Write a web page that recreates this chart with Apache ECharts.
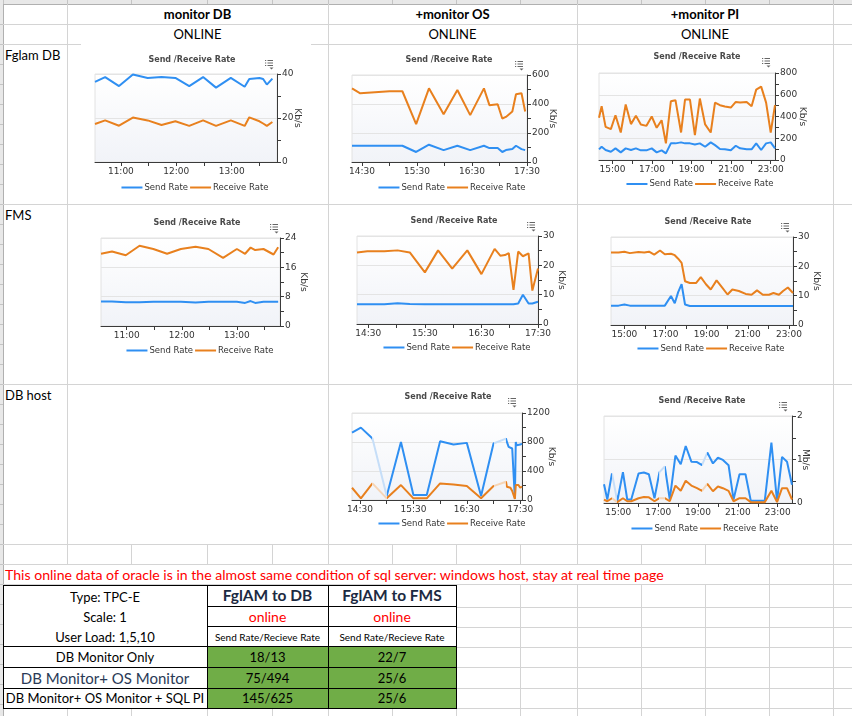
<!DOCTYPE html>
<html>
<head>
<meta charset="utf-8">
<title>Oracle online - send / receive rate</title>
<script src="https://cdn.jsdelivr.net/npm/echarts@6.0.0/dist/echarts.min.js"></script>
<style>
  html, body { margin: 0; padding: 0; }
  body { width: 852px; height: 716px; position: relative; overflow: hidden; background: #fff; font-family: Lato, "Open Sans", sans-serif; }
  .box { position: absolute; }
  .txt { position: absolute; white-space: nowrap; line-height: 1; color: #000; font-size: 13px; }
  .chart { position: absolute; }
</style>
</head>
<body>
<script>
// ---- chart data ----

// Fglam DB row
const fglamMonDbTimes = ['10:32','10:43','10:58','11:13','11:29','11:44','11:59','12:14','12:29','12:43','12:59','13:14','13:19','13:30','13:34','13:38','13:44'];
const fglamMonDbSend = [36.4,38.6,34.5,39.8,38.2,38.6,38.2,34.5,38.6,33.8,38.2,34.2,37.7,38.2,37.7,35.2,37.9];
const fglamMonDbRecv = [17.3,18.9,16.5,20.2,18.9,16.8,18.5,16.4,18.9,16.4,18.9,16.4,20.3,18.5,17.5,16.4,18.2];

const fglamMonOsTimes = ['14:19','14:28','15:00','15:14','15:29','15:43','15:59','16:14','16:28','16:43','16:49','16:58','17:03','17:07','17:14','17:18','17:24','17:28'];
const fglamMonOsSend = [112,112,112,112,69,119,82,112,82,112,96,96,69,82,89,112,89,82];
const fglamMonOsRecv = [508,474,488,488,261,508,330,497,323,508,392,398,300,311,348,467,474,348];

const fglamMonPiTimes = ['14:19','14:27','14:39','14:55','15:09','15:25','15:40','15:56','16:11','16:26','16:43','16:59','17:14','17:29','17:42','17:57','18:11','18:28','18:40','18:55','19:10','19:25','19:41','19:58','20:11','20:26','20:41','20:59','21:14','21:27','21:47','22:02','22:16','22:31','22:46','23:00','23:13'];
const fglamMonPiSend = [98,122,92,76,107,70,107,92,107,89,89,107,70,89,61,153,153,162,153,153,143,153,122,162,137,101,98,89,131,107,98,98,153,92,153,162,107];
const fglamMonPiRecv = [388,495,305,284,412,253,510,330,406,327,314,400,296,366,153,540,550,253,556,556,229,565,327,253,528,504,492,482,534,528,534,495,647,675,528,253,504];

// FMS row
const fmsMonDbTimes = ['10:32','10:44','10:59','11:14','11:29','11:44','11:59','12:15','12:29','12:45','13:00','13:09','13:15','13:20','13:29','13:40','13:45'];
const fmsMonDbSend = [6.7,6.7,6.5,6.5,6.6,6.6,6.6,6.4,6.6,6.6,6.6,6.3,6.8,6.3,6.6,6.6,6.6];
const fmsMonDbRecv = [19.7,20.3,19.3,21.9,21.0,19.7,21.0,21.6,21.0,18.6,21.0,19.7,21.4,20.7,21.0,19.5,21.5];

const fmsMonOsTimes = ['14:18','14:29','14:47','15:01','15:14','15:30','15:44','15:59','16:15','16:30','16:44','16:50','16:55','16:59','17:04','17:09','17:14','17:20','17:24','17:30'];
const fmsMonOsSend = [6.7,6.7,6.7,7.1,6.8,6.7,6.7,6.7,6.7,6.7,6.7,6.7,6.7,6.7,6.7,7.0,10.0,7.0,7.0,7.6];
const fmsMonOsRecv = [24.4,24.8,24.8,25.1,24.4,17.6,25.1,18.9,25.1,17.0,25.6,23.3,23.5,24.2,11.6,24.7,23.1,24.1,11.4,18.9];

const fmsMonPiTimes = ['14:21','14:43','15:00','15:16','15:41','15:58','16:12','16:27','16:44','16:58','17:16','17:27','17:37','17:47','17:57','18:11','18:29','18:43','18:58','19:12','19:29','19:45','20:01','20:15','20:34','20:54','21:11','21:27','21:44','22:02','22:15','22:31','22:43','22:57','23:12'];
const fmsMonPiSend = [6.6,6.6,7.0,6.6,6.6,6.6,6.6,6.6,6.6,6.6,9.9,7.4,11.2,13.9,7.0,6.5,6.5,6.5,6.5,6.5,6.5,6.5,6.5,6.5,6.5,6.5,6.5,6.5,6.5,6.5,6.5,6.5,6.5,6.5,6.5];
const fmsMonPiRecv = [24.7,24.7,25.0,24.5,24.9,24.7,25.0,24.0,25.4,24.1,24.3,23.8,22.6,21.2,14.9,14.3,14.3,16.3,13.9,12.1,15.2,12.8,10.4,12.1,11.6,10.6,10.3,11.8,10.3,10.3,10.9,10.3,11.6,12.8,10.9];

// DB host row (faded parts = no data collected)
const hostMonOsTimes = ['14:21','14:31','14:44','15:00','15:16','15:30','15:45','16:00','16:15','16:30','16:46','17:00','17:14','17:15','17:17','17:19','17:21','17:22','17:23','17:24','17:25','17:26','17:28','17:30','17:32'];
const hostMonOsSend = [930,998,847,55,801,69,69,811,765,788,55,779,847,801,733,756,710,733,687,23,801,756,779,765,779];
const hostMonOsRecv = [169,23,229,23,206,23,23,229,215,192,23,192,252,183,160,169,124,137,115,14,206,183,206,169,183];
const hostMonOsGaps = [['14:44','15:00'], ['17:00','17:14']];

const hostMonPiTimes = ['14:17','14:27','14:41','14:57','15:14','15:27','15:39','16:01','16:17','16:32','16:49','17:04','17:20','17:35','17:52','18:08','18:23','18:40','18:57','19:12','19:28','19:45','20:00','20:15','20:32','20:47','21:05','21:23','21:39','22:21','22:41','22:58','23:13','23:28','23:43'];
const hostMonPiSend = [0.43,0.08,0.68,0.04,0.71,0.08,0.08,0.68,0.70,0.66,0.11,0.71,0.84,0.08,1.09,0.89,1.31,0.95,0.94,0.87,1.16,0.91,1.04,0.99,0.87,0.08,0.66,0.66,0.05,0.05,1.39,0.04,1.06,0.95,0.42];
const hostMonPiRecv = [0.08,0.04,0.11,0.02,0.11,0.04,0.04,0.11,0.14,0.13,0.04,0.11,0.11,0.04,0.40,0.28,0.51,0.40,0.34,0.28,0.44,0.27,0.38,0.34,0.28,0.04,0.11,0.11,0.02,0.02,0.28,0.02,0.34,0.34,0.08];
const hostMonPiGaps = [['14:41','14:57'], ['17:04','17:20'], ['19:12','19:28']];

// axis ticks
const dbTicks = ['11:00','11:30','12:00','12:30','13:00','13:30'];
const dbLabels = ['11:00','12:00','13:00'];
const osTicks = ['14:30','15:00','15:30','16:00','16:30','17:00','17:30'];
const osLabels = ['14:30','15:30','16:30','17:30'];
const piTicks = ['15:00','16:00','17:00','18:00','19:00','20:00','21:00','22:00','23:00'];
const piLabels = ['15:00','17:00','19:00','21:00','23:00'];

// summary table
const tableHeads = ['FglAM to DB', 'FglAM to FMS'];
const tableRows = ['DB Monitor Only', 'DB Monitor+ OS Monitor', 'DB Monitor+ OS Monitor + SQL PI'];
const toDbRates = ['18/13', '75/494', '145/625'];
const toFmsRates = ['22/7', '25/6', '25/6'];

// ---- helpers ----
const BLUE = '#2f8ff2';
const ORANGE = '#e8801e';
const BLUE_FADED = '#c6def8';
const ORANGE_FADED = '#f6d5b6';
const AXIS = '#3a3a3a';
const LABEL = '#333';
const GRID = '#d4d4d4';
const CHART_FONT = 'DejaVu Sans';

const toMin = (s) => { const p = s.split(':'); return +p[0] * 60 + +p[1]; };
const fmtMin = (v) => {
  const h = Math.floor(v / 60), m = Math.round(v - h * 60);
  return String(h).padStart(2, '0') + ':' + String(m).padStart(2, '0');
};

function rect(x, y, w, h, color) {
  const d = document.createElement('div');
  d.className = 'box';
  d.style.cssText = `left:${x}px;top:${y}px;width:${w}px;height:${h}px;background:${color}`;
  document.body.appendChild(d);
  return d;
}
const hLine = (y, x1, x2, c) => rect(x1, y, x2 - x1, 1, c || GRID);
const vLine = (x, y1, y2, c) => rect(x, y1, 1, y2 - y1, c || GRID);

function text(str, x, y, style, centered) {
  const d = document.createElement('div');
  d.className = 'txt';
  d.textContent = str;
  d.style.left = x + 'px';
  d.style.top = y + 'px';
  d.style.transform = centered ? 'translate(-50%,-50%)' : 'translateY(-50%)';
  Object.assign(d.style, style || {});
  document.body.appendChild(d);
  return d;
}

// ---- spreadsheet grid ----
const COLS = [3, 67, 131, 207, 272, 328, 392, 456, 520, 577, 641, 705, 769, 833];

rect(0, 0, 852, 4, '#e8e8e8');
COLS.forEach(x => vLine(x, 0, 4, '#c4c4c4'));
hLine(4, 0, 852, '#b0b0b0');
rect(0, 4, 3, 712, '#e8e8e8');
for (let y = 24; y < 716; y += 20) hLine(y, 0, 3, '#c4c4c4');
vLine(3, 4, 716, '#b0b0b0');

[24, 44, 204, 384, 544, 564, 584].forEach(y => hLine(y, 3, 852));
[607, 627, 647, 667, 688, 708].forEach(y => hLine(y, 456, 852));
[67, 328, 577, 833].forEach(x => vLine(x, 4, 564));
COLS.slice(1).forEach(x => vLine(x, 544, 564));
[769, 833].forEach(x => vLine(x, 564, 584));
[520, 577, 641, 705, 769, 833].forEach(x => vLine(x, 584, 716));
[67, 131, 207, 272, 328, 392, 456].forEach(x => vLine(x, 708, 716));

// chart 1 picture sits over the row line
rect(81, 40, 230, 160, '#fff');

// headings
const bold = { fontWeight: 'bold' };
text('monitor DB', 197.5, 14, bold, true);
text('+monitor OS', 452.5, 14, bold, true);
text('+monitor PI', 705, 14, bold, true);
['ONLINE', 'ONLINE', 'ONLINE'].forEach((s, i) => text(s, [197.5, 452.5, 705][i], 34, null, true));
text('Fglam DB', 5, 55);
text('FMS', 5, 215);
text('DB host', 5, 395);
text('This online data of oracle is in the almost same condition of sql server: windows host, stay at real time page',
  5, 574.5, { color: '#ff0000', fontSize: '14.1px' });

// ---- summary table ----
rect(4, 585, 452, 123, '#fff');
rect(207, 646, 121, 62, '#70ad47');
rect(328, 646, 128, 62, '#70ad47');
[585, 646, 667, 688, 708].forEach(y => hLine(y, 3, 457, '#000'));
[606, 626].forEach(y => hLine(y, 207, 457, '#000'));
[3, 207, 328, 456].forEach(x => vLine(x, 585, 709, '#000'));

text('Type: TPC-E', 105, 597, null, true);
text('Scale: 1', 105, 617, null, true);
text('User Load: 1,5,10', 105, 637, null, true);
const colCenters = [267.5, 392];
tableHeads.forEach((s, i) => {
  text(s, colCenters[i], 595.5, { fontWeight: 'bold', fontSize: '15.5px', color: '#1c2a42' }, true);
  text('online', colCenters[i], 617, { color: '#ff0000', fontSize: '14px' }, true);
  text('Send Rate/Recieve Rate', colCenters[i], 637, { fontSize: '10px' }, true);
});
const rowY = [657, 677.5, 698];
tableRows.forEach((s, i) => {
  const st = i === 1 ? { fontSize: '15px', color: '#2a3a56' } : null;
  text(s, 105, rowY[i], st, true);
  text(toDbRates[i], colCenters[0], rowY[i], null, true);
  text(toFmsRates[i], colCenters[1], rowY[i], null, true);
});

// ---- charts ----
function menuIcon(x, y) {
  const parts = [];
  for (let i = 0; i < 3; i++) {
    parts.push({ type: 'rect', shape: { x: 0, y: i * 2.5, width: 1.2, height: 1 }, style: { fill: '#666' } });
    parts.push({ type: 'rect', shape: { x: 2.5, y: i * 2.5, width: 5.5, height: 1 }, style: { fill: '#666' } });
  }
  parts.push({ type: 'polygon', shape: { points: [[4.5, 7.5], [8.5, 7.5], [6.5, 9.5]] }, style: { fill: '#666' } });
  return [{ type: 'group', x, y, silent: true, children: parts }];
}

function gapPieces(gaps, solid, faded) {
  const pieces = [];
  let from = null;
  gaps.forEach(([a, b]) => {
    const lo = toMin(a), hi = toMin(b);
    pieces.push(from === null ? { lte: lo, color: solid } : { gt: from, lte: lo, color: solid });
    pieces.push({ gt: lo, lte: hi, color: faded });
    from = hi;
  });
  pieces.push({ gt: from, color: solid });
  return pieces;
}

function drawChart(cfg) {
  const [bx, by, bw, bh] = cfg.box;
  const [pl, pt, pr, pb] = cfg.plot;
  const el = document.createElement('div');
  el.className = 'chart';
  el.style.cssText = `left:${bx}px;top:${by}px;width:${bw}px;height:${bh}px`;
  document.body.appendChild(el);

  const chart = echarts.init(el);
  const pairs = (vals) => cfg.times.map((t, i) => [toMin(t), vals[i]]);
  const yt = cfg.yTicks;
  const small = { fontSize: 9, color: LABEL, fontFamily: CHART_FONT };

  const option = {
    animation: false,
    backgroundColor: 'transparent',
    color: [BLUE, ORANGE],
    textStyle: { fontFamily: CHART_FONT },
    title: {
      text: 'Send /Receive Rate',
      left: cfg.title[0] - bx,
      top: cfg.title[1] - by - 5,
      textAlign: 'center',
      padding: 0,
      textStyle: { fontSize: 8, fontWeight: 'bold', color: '#4a4a4a', fontFamily: CHART_FONT }
    },
    legend: {
      data: ['Send Rate', 'Receive Rate'],
      left: 'center',
      top: cfg.legendY - by - 5,
      padding: 0,
      icon: 'rect',
      itemWidth: 21,
      itemHeight: 2,
      itemGap: 2,
      textStyle: { fontSize: 8.5, color: LABEL, fontFamily: CHART_FONT, padding: [0, 0, 0, -3] }
    },
    grid: {
      left: pl - bx, top: pt - by, width: pr - pl, height: pb - pt,
      containLabel: false,
      outerBoundsMode: 'none',
      show: true,
      borderColor: '#e2e2e2',
      borderWidth: 1,
      backgroundColor: new echarts.graphic.LinearGradient(0, 0, 0, 1, [
        { offset: 0, color: '#ffffff' }, { offset: 1, color: '#f1f3f8' }
      ])
    },
    xAxis: {
      type: 'value',
      min: toMin(cfg.xRange[0]),
      max: toMin(cfg.xRange[1]),
      axisLine: { show: true, onZero: false, lineStyle: { color: AXIS, width: 1 } },
      axisTick: { show: true, length: 4, customValues: cfg.xTicks.map(toMin), lineStyle: { color: AXIS } },
      axisLabel: Object.assign({ customValues: cfg.xLabels.map(toMin), formatter: fmtMin, margin: 5 }, small),
      splitLine: { show: false }
    },
    yAxis: {
      type: 'value',
      position: 'right',
      min: yt[0],
      max: yt[yt.length - 1],
      interval: yt[1] - yt[0],
      name: cfg.unit,
      nameLocation: 'middle',
      nameRotate: -90,
      nameGap: cfg.nameGap,
      nameMoveOverlap: false,
      nameTextStyle: small,
      axisLine: { show: true, onZero: false, lineStyle: { color: AXIS, width: 1 } },
      axisTick: { show: true, length: 4, lineStyle: { color: AXIS } },
      minorTick: { show: true, splitNumber: 2, length: 4, lineStyle: { color: AXIS } },
      axisLabel: Object.assign({ margin: 5, formatter: (v) => String(v) }, small),
      splitLine: { show: true, lineStyle: { color: '#e4e4e4' } }
    },
    series: [
      { name: 'Send Rate', type: 'line', data: pairs(cfg.send), symbol: 'none', lineStyle: { width: 2 } },
      { name: 'Receive Rate', type: 'line', data: pairs(cfg.recv), symbol: 'none', lineStyle: { width: 2 } }
    ],
    graphic: menuIcon(cfg.icon[0] - bx, cfg.icon[1] - by)
  };
  if (cfg.gaps) {
    option.visualMap = [
      { type: 'piecewise', show: false, seriesIndex: 0, dimension: 0, pieces: gapPieces(cfg.gaps, BLUE, BLUE_FADED) },
      { type: 'piecewise', show: false, seriesIndex: 1, dimension: 0, pieces: gapPieces(cfg.gaps, ORANGE, ORANGE_FADED) }
    ];
  }
  chart.setOption(option);
  return chart;
}

drawChart({ times: fglamMonDbTimes, send: fglamMonDbSend, recv: fglamMonDbRecv,
  xRange: ['10:32', '13:49'], xTicks: dbTicks, xLabels: dbLabels, yTicks: [0, 20, 40], unit: 'Kb/s',
  box: [75, 44, 240, 158], plot: [95, 74, 277, 162], title: [192, 61], legendY: 188, icon: [265, 60], nameGap: 16 });

drawChart({ times: fglamMonOsTimes, send: fglamMonOsSend, recv: fglamMonOsRecv,
  xRange: ['14:19', '17:30'], xTicks: osTicks, xLabels: osLabels, yTicks: [0, 200, 400, 600], unit: 'Kb/s',
  box: [332, 44, 240, 158], plot: [352, 75, 527, 162], title: [449, 61], legendY: 188, icon: [515, 61], nameGap: 21 });

drawChart({ times: fglamMonPiTimes, send: fglamMonPiSend, recv: fglamMonPiRecv,
  xRange: ['14:19', '23:13'], xTicks: piTicks, xLabels: piLabels, yTicks: [0, 200, 400, 600, 800], unit: 'Kb/s',
  box: [580, 44, 240, 158], plot: [599, 73, 775, 160], title: [697, 58], legendY: 184.5, icon: [762, 58], nameGap: 23 });

drawChart({ times: fmsMonDbTimes, send: fmsMonDbSend, recv: fmsMonDbRecv,
  xRange: ['10:32', '13:47'], xTicks: dbTicks, xLabels: dbLabels, yTicks: [0, 8, 16, 24], unit: 'Kb/s',
  box: [80, 205, 240, 170], plot: [101, 238, 280, 326], title: [197, 224], legendY: 351, icon: [270, 224], nameGap: 19 });

drawChart({ times: fmsMonOsTimes, send: fmsMonOsSend, recv: fmsMonOsRecv,
  xRange: ['14:18', '17:30'], xTicks: osTicks, xLabels: osLabels, yTicks: [0, 10, 20, 30], unit: 'Kb/s',
  box: [337, 205, 240, 170], plot: [357, 236, 538, 324], title: [454, 222], legendY: 348, icon: [527, 222], nameGap: 19 });

drawChart({ times: fmsMonPiTimes, send: fmsMonPiSend, recv: fmsMonPiRecv,
  xRange: ['14:21', '23:12'], xTicks: piTicks, xLabels: piLabels, yTicks: [0, 10, 20, 30], unit: 'Kb/s',
  box: [591, 205, 240, 170], plot: [611, 237, 793, 325], title: [708, 223], legendY: 349, icon: [781, 223], nameGap: 19 });

drawChart({ times: hostMonOsTimes, send: hostMonOsSend, recv: hostMonOsRecv, gaps: hostMonOsGaps,
  xRange: ['14:21', '17:32'], xTicks: osTicks, xLabels: osLabels, yTicks: [0, 400, 800, 1200], unit: 'Kb/s',
  box: [332, 385, 240, 158], plot: [352, 413, 522, 500], title: [448, 398], legendY: 524, icon: [508, 398], nameGap: 25 });

drawChart({ times: hostMonPiTimes, send: hostMonPiSend, recv: hostMonPiRecv, gaps: hostMonPiGaps,
  xRange: ['14:17', '23:43'], xTicks: piTicks, xLabels: piLabels, yTicks: [0, 1, 2], unit: 'Mb/s',
  box: [585, 385, 240, 158], plot: [604, 416, 792, 503], title: [702, 402], legendY: 529, icon: [779, 402], nameGap: 9 });
</script>
</body>
</html>
